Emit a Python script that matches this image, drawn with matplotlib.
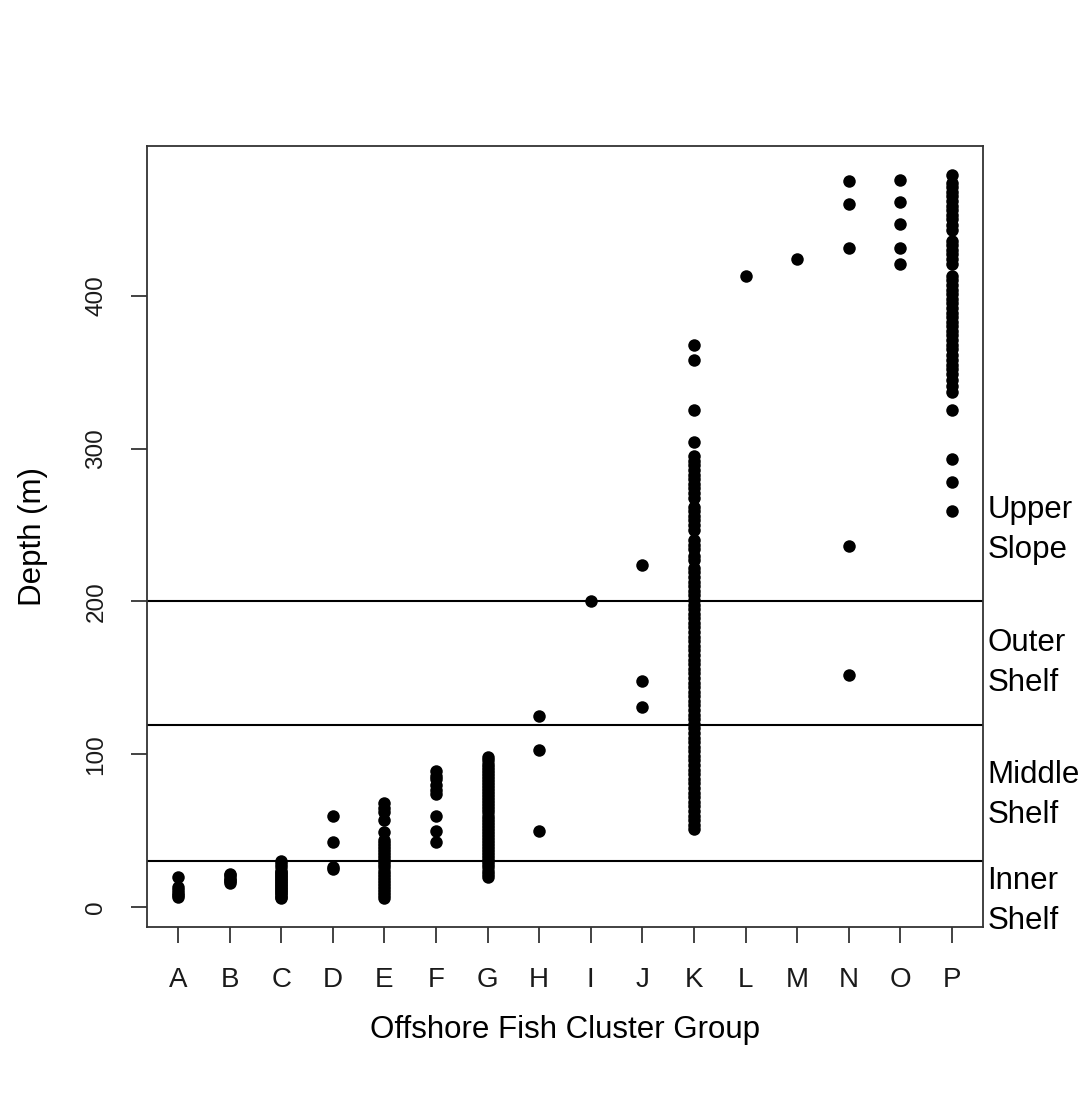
import numpy as np
import matplotlib
matplotlib.use("Agg")
import matplotlib.pyplot as plt
import matplotlib.transforms as mtransforms

plt.rcParams['font.family'] = ['Liberation Sans', 'DejaVu Sans']

# Cluster groups and the sampled depths (m) in each
groups = ["A", "B", "C", "D", "E", "F", "G", "H",
          "I", "J", "K", "L", "M", "N", "O", "P"]

depth_A = [20, 13, 11, 9, 8, 7]
depth_B = [22, 21, 19, 18, 17, 16]
depth_C = [30, 28, 26, 24, 23, 22, 21, 20, 19, 18, 17, 16, 15, 14, 13,
           12, 11, 10, 9, 8, 7, 6]
depth_D = [60, 43, 26, 25]
depth_E = [68, 65, 62, 57, 49, 44, 42, 40, 38, 36, 34, 32, 30, 28, 26,
           24, 22, 20, 18, 16, 14, 12, 10, 8, 6]
depth_F = [89, 86, 84, 80, 77, 74, 60, 50, 43]
depth_G = [98, 96, 94, 92, 90, 88, 86, 84, 82, 80, 78, 76, 74, 72, 70,
           68, 66, 64, 62, 60, 58, 56, 54, 52, 50, 48, 46, 44, 42, 40,
           38, 36, 34, 32, 30, 28, 26, 24, 22, 20]
depth_H = [125, 103, 50]
depth_I = [200]
depth_J = [224, 148, 131]
depth_K = [368, 358, 325, 304, 295, 292, 289, 286, 283, 280, 277, 274,
           271, 268, 262, 259, 256, 253, 250, 247, 240, 237, 234, 230,
           227, 222, 219, 216, 213, 210, 207, 204, 201, 198, 195, 192,
           189, 186, 183, 180, 177, 174, 171, 168, 165, 162, 159, 156,
           153, 150, 147, 144, 141, 138, 135, 132, 129, 126, 123, 120,
           117, 114, 111, 108, 105, 102, 99, 96, 93, 90, 87, 84, 81, 78,
           75, 72, 69, 66, 63, 60, 57, 54, 51]
depth_L = [413]
depth_M = [424]
depth_N = [475, 460, 431, 236, 152]
depth_O = [476, 461, 447, 431, 421]
depth_P = [479, 474, 471, 468, 465, 462, 459, 456, 453, 450, 446, 443,
           436, 433, 430, 427, 424, 421, 413, 410, 407, 404, 401, 398,
           395, 392, 389, 386, 383, 380, 377, 374, 371, 368, 365, 361,
           358, 355, 352, 349, 345, 341, 337, 325, 293, 278, 259]

depths = [depth_A, depth_B, depth_C, depth_D, depth_E, depth_F, depth_G,
          depth_H, depth_I, depth_J, depth_K, depth_L, depth_M, depth_N,
          depth_O, depth_P]

# Depth-zone boundaries and the zone names shown beside the plot
zone_breaks = [200, 119, 30]
zone_names = ["Upper\nSlope", "Outer\nShelf", "Middle\nShelf", "Inner\nShelf"]
zone_label_y = [246.5, 159.5, 73.5, 4]

y_ticks = [0, 100, 200, 300, 400]

W, H, DPI = 1084, 1093, 100
fig = plt.figure(figsize=(W / DPI, H / DPI), dpi=DPI)
ax = fig.add_axes([147 / W, 1 - 927 / H, (983 - 147) / W, (927 - 146) / H])

for i, vals in enumerate(depths):
    ax.plot(np.full(len(vals), i + 1), vals, linestyle="none", marker="o",
            markersize=9.0, color="black", markeredgewidth=0)

for yb in zone_breaks:
    ax.axhline(yb, color="black", linewidth=1.5)

n = len(groups)
ax.set_xlim(1 - 0.04 * (n - 1), n + 0.04 * (n - 1))
all_vals = np.concatenate([np.asarray(v, float) for v in depths])
lo, hi = all_vals.min(), all_vals.max()
ax.set_ylim(lo - 0.04 * (hi - lo), hi + 0.04 * (hi - lo))

ax.set_xticks(np.arange(1, n + 1))
ax.set_xticklabels(groups)
ax.set_yticks(y_ticks)
ax.set_yticklabels([str(t) for t in y_ticks], rotation=90, va="center")

ax.tick_params(axis="both", length=11.5, width=1.2, color="#222222",
               labelcolor="#1a1a1a")
ax.tick_params(axis="x", pad=17, labelsize=20)
ax.tick_params(axis="y", pad=17, labelsize=17.5)

for sp in ax.spines.values():
    sp.set_linewidth(1.3)
    sp.set_color("#333333")

ax.set_xlabel("Offshore Fish Cluster Group", fontsize=22.5, labelpad=16)
ax.set_ylabel("Depth (m)", fontsize=22.5, labelpad=27)

trans = mtransforms.blended_transform_factory(ax.transAxes, ax.transData)
for name, yv in zip(zone_names, zone_label_y):
    ax.text(1.005, yv, name, transform=trans, ha="left", va="center",
            fontsize=22.5, linespacing=1.43, clip_on=False)

fig.savefig("out.png", dpi=DPI, facecolor="white")
